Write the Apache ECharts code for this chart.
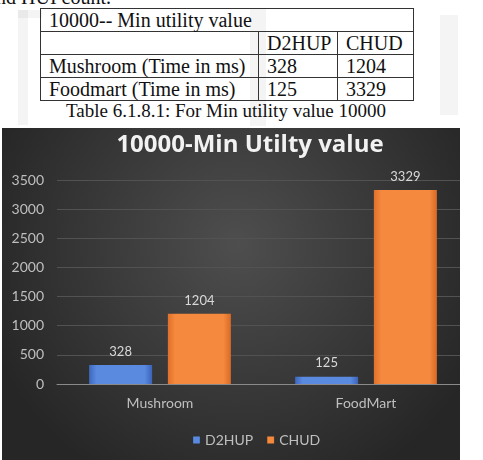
<!DOCTYPE html>
<html>
<head>
<meta charset="utf-8">
<script src="https://cdn.jsdelivr.net/npm/echarts@6/dist/echarts.min.js"></script>
<style>
  html, body { margin:0; padding:0; background:#fff; width:483px; height:460px; overflow:hidden; position:relative; font-family:"Liberation Serif","DejaVu Serif",serif; }
  .wm { position:absolute; background:rgba(0,0,0,0.045); }
  #topText { position:absolute; left:-4px; top:-14px; font-size:20px; color:#111; }
  table { position:absolute; left:40px; top:8px; border-collapse:collapse; font-size:20px; color:#111; }
  td { border:1px solid #333; padding:0 3px 0 8px; height:22px; line-height:22px; white-space:nowrap; }
  #caption { position:absolute; left:0; width:452px; top:100px; text-align:center; font-size:19px; color:#111; }
  #wrap { position:absolute; left:2px; top:128px; width:458px; height:332px; overflow:hidden; }
  #chart { width:470px; height:332px; }
</style>
</head>
<body>
<div class="wm" style="left:18px;top:10px;width:10px;height:115px;"></div>
<div class="wm" style="left:18px;top:10px;width:24px;height:8px;"></div>
<div class="wm" style="left:250px;top:8px;width:16px;height:118px;"></div>
<div class="wm" style="left:440px;top:15px;width:18px;height:100px;"></div>
<div id="topText">nd HUI count.</div>
<table>
  <tr><td colspan="3">10000-- Min utility value</td></tr>
  <tr><td style="width:206px"></td><td style="width:67px">D2HUP</td><td style="width:64px">CHUD</td></tr>
  <tr><td>Mushroom (Time in ms)</td><td>328</td><td>1204</td></tr>
  <tr><td>Foodmart (Time in ms)</td><td>125</td><td>3329</td></tr>
</table>
<div id="caption">Table 6.1.8.1: For Min utility value 10000</div>
<div id="wrap"><div id="chart"></div></div>
<script>
const categories = ["Mushroom", "FoodMart"];
const seriesNames = ["D2HUP", "CHUD"];
const d2hup = [328, 125];
const chud = [1204, 3329];
const chartTitle = "10000-Min Utilty value";

const font = "Lato, 'Open Sans', sans-serif";
const blueGrad = new echarts.graphic.LinearGradient(0,0,1,0,[
  {offset:0, color:'#3d68bf'},{offset:0.12, color:'#5a8ae0'},{offset:0.88, color:'#5a8ae0'},{offset:1, color:'#3a63b8'}]);
const orangeGrad = new echarts.graphic.LinearGradient(0,0,1,0,[
  {offset:0, color:'#e0702a'},{offset:0.12, color:'#f58a3e'},{offset:0.88, color:'#f58a3e'},{offset:1, color:'#d96a25'}]);

const chart = echarts.init(document.getElementById('chart'));
chart.setOption({
  backgroundColor: new echarts.graphic.RadialGradient(0.5, 0.35, 0.8, [
    {offset:0, color:'#4e4e4e'},{offset:1, color:'#262626'}]),
  animation: false,
  title: {
    text: chartTitle, left: 243, top: 0, textAlign: 'center',
    textStyle: { color:'#f2f2f2', fontSize: 24, fontWeight: 'bold', fontFamily: "'Open Sans', sans-serif" }
  },
  legend: {
    data: seriesNames, left: 186, top: 300, itemWidth: 7, itemHeight: 7, itemGap: 14,
    icon: 'rect',
    textStyle: { color:'#bfbfbf', fontSize: 14, fontFamily: font }
  },
  grid: { left: 55, right: 3, top: 52, bottom: 76 },
  xAxis: {
    type: 'category', data: categories,
    axisLine: { lineStyle: { color:'#8a8a8a', width: 1 } },
    axisTick: { show: false },
    axisLabel: { color:'#bfbfbf', fontSize: 14, margin: 12, fontFamily: font }
  },
  yAxis: {
    type: 'value', min: 0, max: 3500, interval: 500,
    axisLine: { show: false }, axisTick: { show: false },
    axisLabel: { color:'#bfbfbf', fontSize: 14, margin: 13, fontFamily: font, formatter: v => String(v) },
    splitLine: { lineStyle: { color:'#525252', width: 1 } }
  },
  series: [
    { name: seriesNames[0], type: 'bar', data: d2hup, barWidth: 63, barGap: '25%',
      itemStyle: { color: blueGrad },
      label: { show: true, position: 'top', distance: 7, color:'#d9d9d9', fontSize: 13, fontFamily: font } },
    { name: seriesNames[1], type: 'bar', data: chud, barWidth: 63,
      itemStyle: { color: orangeGrad },
      label: { show: true, position: 'top', distance: 7, color:'#d9d9d9', fontSize: 13, fontFamily: font } }
  ]
});
</script>
</body>
</html>
